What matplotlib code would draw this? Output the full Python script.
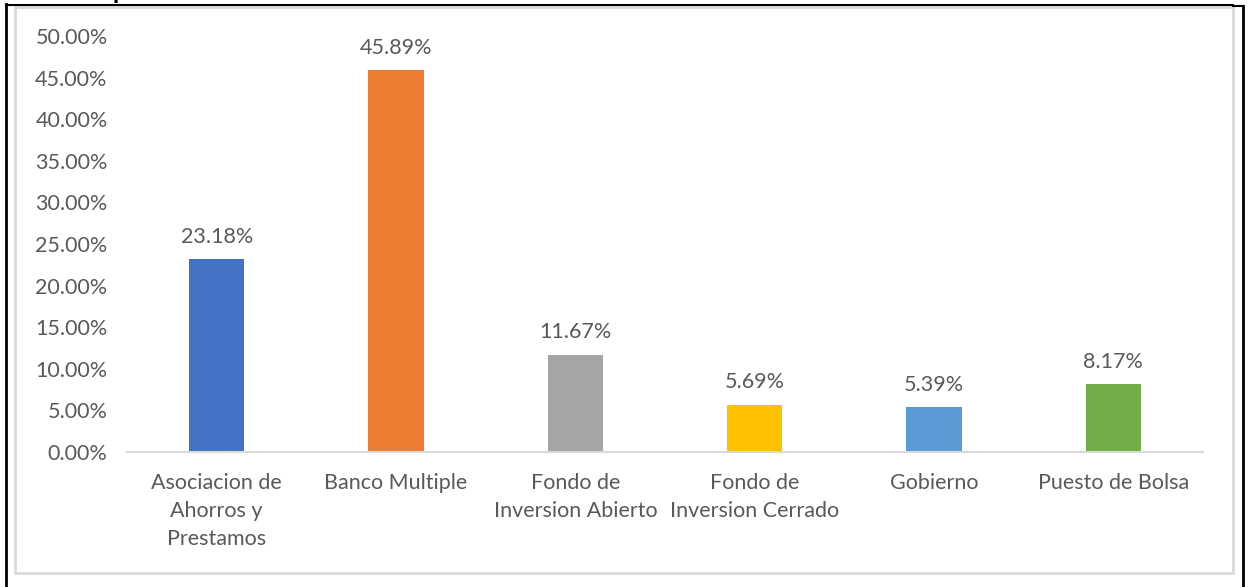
import matplotlib
matplotlib.use("Agg")
import matplotlib.pyplot as plt
from matplotlib.lines import Line2D
from matplotlib.patches import Rectangle
from matplotlib.ticker import FuncFormatter, MultipleLocator

categories = ["Asociacion de\nAhorros y\nPrestamos", "Banco Multiple",
              "Fondo de\nInversion Abierto", "Fondo de\nInversion Cerrado",
              "Gobierno", "Puesto de Bolsa"]
values = [23.18, 45.89, 11.67, 5.69, 5.39, 8.17]
colors = ["#4472C4", "#ED7D31", "#A5A5A5", "#FFC000", "#5B9BD5", "#70AD47"]

plt.rcParams['font.family'] = ['Lato', 'DejaVu Sans']
txt = "#595959"

W, H = 1248, 587
fig = plt.figure(figsize=(W / 100, H / 100), dpi=100)

def fx(px):
    return px / W

def fy(py):
    return 1 - py / H

ax = fig.add_axes([fx(127), fy(452), fx(1203) - fx(127), fy(36) - fy(452)])
x = list(range(len(categories)))
ax.bar(x, values, width=0.31, color=colors, zorder=2)
for xi, v in zip(x, values):
    ax.annotate(f"{v:.2f}%", (xi, v), xytext=(0, 9), textcoords="offset points",
                ha="center", va="bottom", fontsize=15.5, color=txt)

ax.set_xlim(-0.5, len(categories) - 0.5)
ax.set_ylim(0, 50)
ax.yaxis.set_major_locator(MultipleLocator(5))
ax.yaxis.set_major_formatter(FuncFormatter(lambda v, p: f"{v:.2f}%"))
ax.set_xticks(x)
ax.set_xticklabels(categories, fontsize=15.5, color=txt, linespacing=1.5)
ax.tick_params(axis='y', labelsize=15.5, labelcolor=txt, length=0, pad=14)
ax.tick_params(axis='x', length=0, pad=15)
for s in ["top", "right", "left"]:
    ax.spines[s].set_visible(False)
ax.spines["bottom"].set_color("#D9D9D9")
ax.spines["bottom"].set_linewidth(1.5)

# inner light frame
fig.add_artist(Rectangle((fx(15), fy(573)), fx(1233) - fx(15), fy(7) - fy(573),
                         transform=fig.transFigure, fill=False,
                         edgecolor="#D9D9D9", linewidth=2))
# outer black border
fig.add_artist(Line2D([fx(6), fx(6)], [fy(4), 0], transform=fig.transFigure,
                      color="black", linewidth=2))
fig.add_artist(Line2D([fx(6), fx(1233)], [fy(5), fy(5)], transform=fig.transFigure,
                      color="black", linewidth=1.5))
fig.add_artist(Line2D([fx(1233), fx(1243)], [fy(6), fy(6)], transform=fig.transFigure,
                      color="black", linewidth=1.5))
fig.add_artist(Line2D([fx(1243), fx(1243)], [fy(6), 0], transform=fig.transFigure,
                      color="black", linewidth=2))
# clipped title fragment
fig.text(fx(113), fy(-1), "p", fontsize=18, fontweight="bold", color="black",
         va="baseline", ha="left")

fig.savefig("out.png", dpi=100)
